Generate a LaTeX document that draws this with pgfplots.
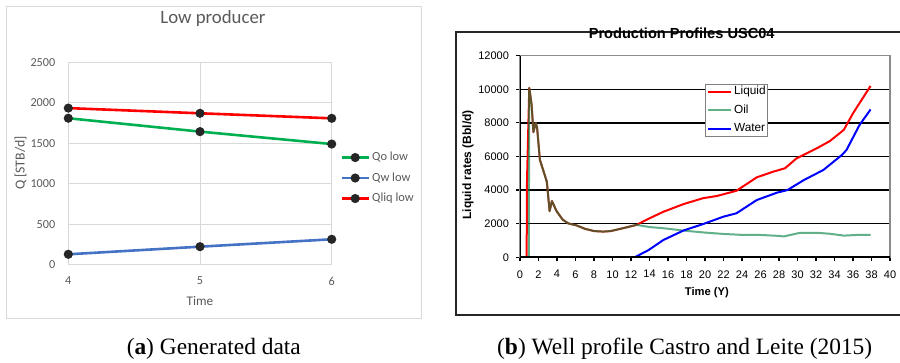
\documentclass[border=0pt]{standalone}
\usepackage{fontspec}
\usepackage{pgfplots}
\pgfplotsset{compat=1.18}
\setmainfont{Liberation Serif}
\newfontfamily\calibri{Carlito}
\newfontfamily\arial{Liberation Sans}
\definecolor{xgreen}{HTML}{00B050}
\definecolor{xblue}{HTML}{4472C4}
\definecolor{xred}{HTML}{FF0000}
\definecolor{xgrid}{HTML}{D9D9D9}
\definecolor{xtext}{HTML}{595959}
\definecolor{xmark}{HTML}{262626}
\definecolor{oilg}{HTML}{008040}
\definecolor{liq}{HTML}{FF0000}
\definecolor{wat}{HTML}{0000FF}

\begin{document}
\begin{tikzpicture}
\useasboundingbox (0,0) rectangle (450pt,181.5pt);
% ---------- (a) ----------
\draw[xgrid, line width=0.5pt] (3pt,22pt) rectangle (210.5pt,178pt);
\begin{axis}[
  at={(34.15pt,49pt)}, anchor=south west, scale only axis,
  width=131.7pt, height=101.35pt,
  xmin=4, xmax=6, ymin=0, ymax=2500,
  xtick={4,5,6}, ytick={0,500,...,2500},
  grid=major, grid style={xgrid, line width=0.5pt},
  axis line style={xgrid, line width=0.5pt},
  major tick length=0pt,
  /pgf/number format/assume math mode=true,
  /pgf/number format/set thousands separator={},
  ticklabel style={font=\calibri\fontsize{6.1}{7}\selectfont, text=xtext},
  xticklabel style={yshift=-2.5pt},
  yticklabel style={xshift=-3pt},
  title={Low producer},
  title style={font=\calibri\fontsize{9.4}{11}\selectfont, text=xtext, at={(axis description cs:0.549,1.159)}, anchor=center},
  xlabel={Time},
  xlabel style={font=\calibri\fontsize{6.6}{8}\selectfont, text=xtext, at={(axis description cs:0.5,-0.176)}, anchor=center},
  ylabel={Q [STB/d]},
  ylabel style={font=\calibri\fontsize{6.9}{8}\selectfont, text=xtext, at={(axis description cs:-0.181,0.503)}, anchor=center},
  legend cell align=left,
  legend style={at={(axis description cs:1.0315,0.429)}, anchor=west, draw=none, fill=none,
    font=\calibri\fontsize{6.2}{7}\selectfont, text=xtext, inner sep=0pt, row sep=4.25pt,
    nodes={inner sep=0pt, text height=4.6pt, text depth=1.4pt}},
  legend image code/.code={\draw[#1,mark=none] (0pt,0pt) -- (13.5pt,0pt); \fill[xmark] (6.75pt,0pt) circle (1.6pt); \path (14.6pt,0pt);},
  every axis plot/.append style={line width=1.3pt, mark=*, mark size=1.6pt, mark options={draw=xmark, fill=xmark}},
]
\addplot[xgreen] coordinates {(4,1810) (5,1645) (6,1492)};
\addlegendentry{Qo low}
\addplot[xblue] coordinates {(4,132) (5,226) (6,317)};
\addlegendentry{Qw low}
\addplot[xred] coordinates {(4,1935) (5,1871) (6,1809)};
\addlegendentry{Qliq low}
\end{axis}
% ---------- (b) ----------
\draw[black!85, line width=0.9pt] (228pt,24pt) rectangle (452pt,165.65pt);
\begin{axis}[
  at={(260pt,52.85pt)}, anchor=south west, scale only axis,
  width=185pt, height=100.8pt,
  xmin=0, xmax=40, ymin=0, ymax=12000,
  xtick={0,2,...,40}, ytick={0,2000,...,10000},
  scaled y ticks=false, scaled x ticks=false,
  extra y ticks={12000}, extra y tick style={grid=none},
  ymajorgrids, grid style={black, line width=0.75pt},
  axis line style={black!45, line width=0.6pt},
  tick align=outside, xtick pos=bottom, ytick pos=left,
  major tick length=2pt,
  tick style={black, line width=0.6pt},
  /pgf/number format/assume math mode=true,
  /pgf/number format/set thousands separator={},
  ticklabel style={font=\arial\fontsize{5.5}{6}\selectfont, text=black},
  xticklabel style={yshift=-1pt},
  yticklabel style={xshift=0pt},
  title={Production Profiles USC04},
  title style={font=\arial\bfseries\fontsize{7.3}{8}\selectfont, at={(axis description cs:0.437,1.053)}, anchor=center},
  xlabel={Time (Y)},
  xlabel style={font=\arial\bfseries\fontsize{5.6}{7}\selectfont, at={(axis description cs:0.505,-0.177)}, anchor=center},
  ylabel={Liquid rates (Bbl/d)},
  ylabel style={font=\arial\bfseries\fontsize{6}{7}\selectfont, at={(axis description cs:-0.1405,0.458)}, anchor=center},
  legend cell align=left,
  legend style={at={(axis description cs:0.5,0.86)}, anchor=north west, draw=black!50, fill=white,
    font=\arial\fontsize{5.9}{7}\selectfont, inner xsep=0.85pt, inner ysep=0.9pt, row sep=3.6pt,
    nodes={inner sep=0pt, text height=4.3pt, text depth=1.3pt}},
  legend image code/.code={\draw[#1] (0pt,0pt) -- (11.3pt,0pt); \path (12.5pt,0pt);},
  every axis plot/.append style={line width=1pt, line join=round},
]
\addplot[liq] coordinates {
(0,0) (0.72,0) (0.75,4400) (1.0,10080) (1.25,9100) (1.45,7450) (1.7,8000) (1.85,7700)
(2.15,5800) (2.5,5200) (2.9,4500) (3.2,2750) (3.45,3350) (3.95,2750) (4.6,2250) (5.2,2020)
(6.1,1900) (7.0,1700) (8.0,1560) (9.0,1530) (9.8,1560) (11.2,1740) (12.6,1930)
(14.0,2320) (15.5,2710) (17.7,3170) (19.8,3520) (21.3,3650) (23.4,3960) (25.6,4760)
(27.4,5100) (28.65,5300) (29.9,5890) (32.1,6490) (33.5,6920) (35.0,7580) (36.0,8570) (37.9,10200)};
\addlegendentry{Liquid}
\addplot[oilg, opacity=0.62] coordinates {
(0,0) (0.95,0) (1.0,10080) (1.25,9100) (1.45,7450) (1.7,8000) (1.85,7700)
(2.15,5800) (2.5,5200) (2.9,4500) (3.2,2750) (3.45,3350) (3.95,2750) (4.6,2250) (5.2,2020)
(6.1,1900) (7.0,1700) (8.0,1560) (9.0,1530) (9.8,1560) (11.2,1740) (12.6,1930)
(14.0,1800) (15.5,1730) (17.7,1590) (19.8,1480) (22.0,1390) (23.8,1340) (26.0,1330)
(28.1,1270) (28.5,1240) (30.3,1460) (32.1,1460) (33.5,1400) (35.0,1290) (36.4,1330) (37.9,1340)};
\addlegendentry{Oil}
\addplot[wat] coordinates {
(0,0) (12.4,0) (13.9,430) (15.5,1030) (17.7,1600) (19.8,1980) (22.0,2420) (23.4,2620)
(25.6,3410) (27.8,3850) (28.9,4000) (30.7,4600) (32.8,5200) (34.8,6090) (35.3,6390)
(36.7,7870) (37.9,8800)};
\addlegendentry{Water}
\draw[black, line width=0.8pt] (rel axis cs:0,1) -- (rel axis cs:0,0) -- (rel axis cs:1,0);
\end{axis}
% ---------- captions ----------
\node[anchor=base, inner sep=0pt, font=\fontsize{11.7}{13}\selectfont] at (106.9pt,4pt) {(\textbf{a}) Generated data};
\node[anchor=base, inner sep=0pt, font=\fontsize{11.7}{13}\selectfont] at (342.35pt,4pt) {(\textbf{b}) Well profile Castro and Leite (2015)};
\end{tikzpicture}
\end{document}
